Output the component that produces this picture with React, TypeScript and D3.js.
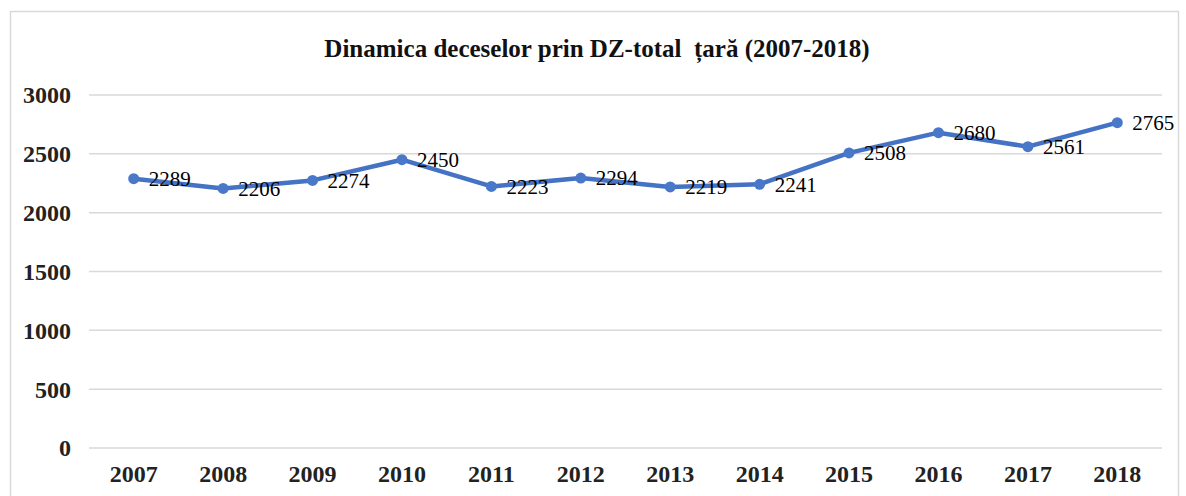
import { useEffect, useRef } from 'react'
import * as d3 from 'd3'

const years = ['2007', '2008', '2009', '2010', '2011', '2012', '2013', '2014', '2015', '2016', '2017', '2018']
const deaths = [2289, 2206, 2274, 2450, 2223, 2294, 2219, 2241, 2508, 2680, 2561, 2765]
const yTicks = [0, 500, 1000, 1500, 2000, 2500, 3000]
const title = 'Dinamica deceselor prin DZ-total  țară (2007-2018)'

const W = 1186
const H = 496

const App = () => {
  const ref = useRef<SVGSVGElement>(null)

  useEffect(() => {
    const svg = d3.select(ref.current)
    svg.selectAll('*').remove()

    const left = 89
    const right = 1162
    const top = 95
    const bottom = 448
    const font = '"Liberation Serif", "Times New Roman", serif'

    svg.append('rect')
       .attr('x', 10.5).attr('y', 11.5)
       .attr('width', 1168).attr('height', 500)
       .attr('fill', 'white')
       .attr('stroke', '#d9d9d9')
       .attr('stroke-width', 1.5)

    const x = d3.scaleBand<string>()
                .domain(years)
                .range([left, right])

    const y = d3.scaleLinear()
                .domain([0, 3000])
                .range([bottom, top])

    // grid
    svg.append('g')
       .selectAll('line')
       .data(yTicks)
       .join('line')
       .attr('x1', left).attr('x2', right)
       .attr('y1', d => y(d)).attr('y2', d => y(d))
       .attr('stroke', '#d9d9d9')
       .attr('stroke-width', 1.5)

    svg.append('g')
       .selectAll('text')
       .data(yTicks)
       .join('text')
       .attr('x', 71)
       .attr('y', d => y(d))
       .attr('dy', '0.35em')
       .attr('text-anchor', 'end')
       .attr('font-family', font)
       .attr('font-weight', 'bold')
       .attr('font-size', 24)
       .attr('fill', '#222')
       .text(d => d)

    svg.append('g')
       .selectAll('text')
       .data(years)
       .join('text')
       .attr('x', d => x(d)! + x.bandwidth() / 2)
       .attr('y', 474)
       .attr('dy', '0.35em')
       .attr('text-anchor', 'middle')
       .attr('font-family', font)
       .attr('font-weight', 'bold')
       .attr('font-size', 24)
       .attr('fill', '#222')
       .text(d => d)

    svg.append('text')
       .attr('x', 597)
       .attr('y', 48)
       .attr('dy', '0.35em')
       .attr('text-anchor', 'middle')
       .attr('font-family', font)
       .attr('font-weight', 'bold')
       .attr('font-size', 25)
       .attr('fill', '#111')
       .style('white-space', 'pre')
       .text(title)

    const line = d3.line<number>()
                   .x((d, i) => x(years[i])! + x.bandwidth() / 2)
                   .y(d => y(d))

    svg.append('path')
       .datum(deaths)
       .attr('d', line)
       .attr('fill', 'none')
       .attr('stroke', '#4472c4')
       .attr('stroke-width', 4.5)
       .attr('stroke-linejoin', 'round')

    svg.append('g')
       .selectAll('circle')
       .data(deaths)
       .join('circle')
       .attr('cx', (d, i) => x(years[i])! + x.bandwidth() / 2)
       .attr('cy', d => y(d))
       .attr('r', 5.5)
       .attr('fill', '#4a78c8')

    svg.append('g')
       .selectAll('text')
       .data(deaths)
       .join('text')
       .attr('x', (d, i) => x(years[i])! + x.bandwidth() / 2 + 15)
       .attr('y', d => y(d))
       .attr('dy', '0.35em')
       .attr('font-family', font)
       .attr('font-size', 21)
       .attr('fill', '#000')
       .text(d => d)
  }, [])

  return (
    <div style={{ position: 'absolute', left: 0, top: 0, width: W, height: H, overflow: 'hidden', background: 'white' }}>
      <svg ref={ref} width={W} height={H}></svg>
    </div>
  )
}

export default App
